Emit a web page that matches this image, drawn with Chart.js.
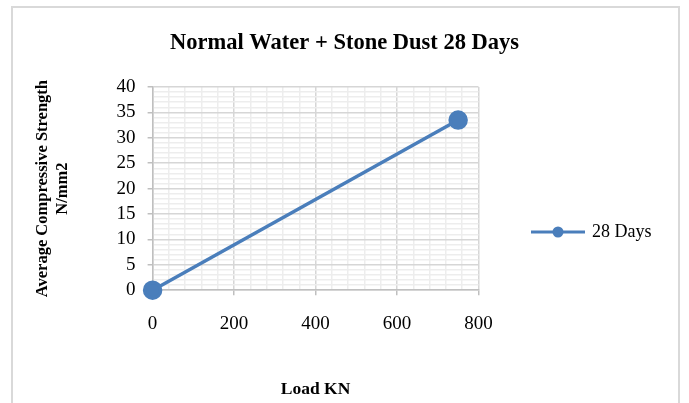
<!DOCTYPE html>
<html>
<head>
<meta charset="utf-8">
<script src="https://cdn.jsdelivr.net/npm/chart.js@4.4.1/dist/chart.umd.min.js"></script>
<style>
html,body{margin:0;padding:0;background:#fff;}
#wrap{position:relative;width:689px;height:403px;overflow:hidden;}
#frame{position:absolute;left:11px;top:6px;width:669px;height:420px;border:2px solid #d9d9d9;box-sizing:border-box;}
canvas{position:absolute;left:0;top:0;}
</style>
</head>
<body>
<div id="wrap">
<div id="frame"></div>
<canvas id="c" width="689" height="403"></canvas>
</div>
<script>
const chartTitle = 'Normal Water + Stone Dust 28 Days';
const seriesName = '28 Days';
const loadKN = [0, 750];
const strength = [0, 33.5];
const xTitle = 'Load KN';
const yTitle = ['Average Compressive Strength', 'N/mm2'];

const blue = '#4a7ebb';
const serif = "'Liberation Serif', 'Times New Roman', serif";

// legend symbol: line with a dot
const sym = document.createElement('canvas');
sym.width = 54; sym.height = 14;
(function(){
  const g = sym.getContext('2d');
  g.strokeStyle = blue; g.lineWidth = 3;
  g.beginPath(); g.moveTo(0,7); g.lineTo(54,7); g.stroke();
  g.fillStyle = blue; g.beginPath(); g.arc(27,7,5.5,0,Math.PI*2); g.fill();
})();

const boxPlace = {
  id: 'boxPlace',
  afterLayout(chart) {
    const lg = chart.legend;
    if (lg) {
      const w = lg.width, h = lg.height;
      const pad = lg.options.labels.padding;
      lg.left = 533 - pad; lg.right = lg.left + w;
      lg.top = 232 - h / 2; lg.bottom = lg.top + h;
    }
    const tb = chart.titleBlock;
    if (tb) { tb.left = 0; tb.right = chart.width; tb.width = chart.width; }
  }
};

new Chart(document.getElementById('c'), {
  type: 'scatter',
  data: {
    datasets: [{
      label: seriesName,
      data: loadKN.map((x,i)=>({x:x, y:strength[i]})),
      showLine: true,
      borderColor: blue,
      backgroundColor: blue,
      borderWidth: 3.5,
      pointRadius: 8,
      pointHoverRadius: 8,
      clip: false
    }]
  },
  plugins: [boxPlace],
  options: {
    responsive: false,
    animation: false,
    layout: { padding: { left: 20, right: 62, top: 19, bottom: 3 } },
    plugins: {
      tooltip: { enabled: false },
      title: {
        display: true, text: chartTitle, color: '#000',
        font: { family: serif, size: 22.5, weight: 'bold' },
        padding: { top: 11, bottom: 30 }
      },
      legend: {
        position: 'right',
        align: 'center',
        labels: {
          color: '#000',
          font: { family: serif, size: 18 },
          usePointStyle: true,
          pointStyleWidth: 50,
          boxWidth: 50, boxHeight: 14,
          padding: 20,
          generateLabels: (chart) => chart.data.datasets.map((d,i)=>({
            text: d.label, pointStyle: sym, fillStyle: blue, strokeStyle: blue,
            lineWidth: 0, hidden: false, datasetIndex: i
          }))
        }
      }
    },
    scales: {
      x: {
        type: 'linear', min: 0, max: 800,
        border: { color: '#bfbfbf', width: 1.5 },
        ticks: {
          stepSize: 40, autoSkip: false, maxRotation: 0,
          color: '#000', font: { family: serif, size: 19 }, padding: 17,
          callback: (v) => (v % 200 === 0 ? String(v) : '')
        },
        grid: {
          drawOnChartArea: true, tickLength: 5,
          color: (ctx) => (ctx.tick && ctx.tick.value % 200 === 0 ? '#d6d6d6' : '#ededed'),
          tickColor: (ctx) => (ctx.tick && ctx.tick.value % 200 === 0 ? '#bfbfbf' : 'rgba(0,0,0,0)'),
          lineWidth: 1.5
        },
        title: {
          display: true, text: xTitle, color: '#000',
          font: { family: serif, size: 17.5, weight: 'bold' },
          padding: { top: 27, bottom: 0 }
        }
      },
      y: {
        type: 'linear', min: 0, max: 40,
        border: { color: '#bfbfbf', width: 1.5 },
        ticks: {
          stepSize: 1, autoSkip: false,
          color: '#000', font: { family: serif, size: 19 }, padding: 12,
          callback: (v) => (v % 5 === 0 ? String(v) : '')
        },
        grid: {
          tickLength: 5,
          color: (ctx) => (ctx.tick && ctx.tick.value % 5 === 0 ? '#d6d6d6' : '#ededed'),
          tickColor: (ctx) => (ctx.tick && ctx.tick.value % 5 === 0 ? '#bfbfbf' : 'rgba(0,0,0,0)'),
          lineWidth: 1.5
        },
        title: {
          display: true, text: yTitle, color: '#000',
          font: { family: serif, size: 16.5, weight: 'bold' },
          padding: { top: 13, bottom: 32 }
        }
      }
    }
  }
});
</script>
</body>
</html>
